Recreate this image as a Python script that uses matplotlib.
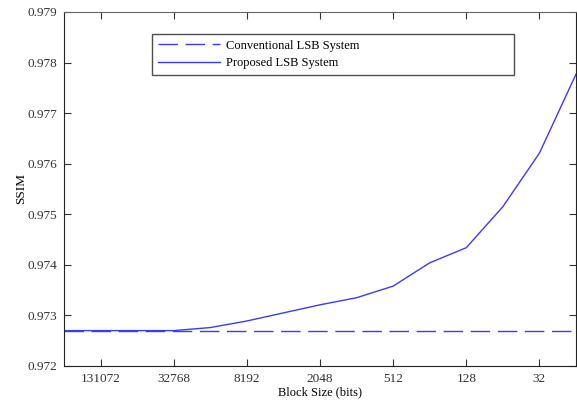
import matplotlib
matplotlib.use("Agg")
import matplotlib.pyplot as plt
import numpy as np

plt.rcParams['font.family'] = ['Liberation Serif', 'DejaVu Serif']

# block sizes in bits, from 2^18 down to 2^4
block_sizes = [262144, 131072, 65536, 32768, 16384, 8192, 4096, 2048,
               1024, 512, 256, 128, 64, 32, 16]
conventional = [0.9727] * 15
proposed = [0.9727, 0.9727, 0.9727, 0.9727, 0.97276, 0.97289, 0.97305, 0.97321,
            0.97335, 0.97358, 0.97404, 0.97434, 0.97515, 0.97621, 0.97777]
tick_labels = ['131072', '32768', '8192', '2048', '512', '128', '32']

x = -np.log2(block_sizes)

fig = plt.figure(figsize=(5.77, 4.0), dpi=100)
ax = fig.add_axes([64/577, 1 - 366/400, 512/577, 354/400])

ax.plot(x, conventional, color='#3a3aff', lw=1, dashes=(14, 5.5),
        label='Conventional LSB System')
ax.plot(x, proposed, color='#3a3aff', lw=1, label='Proposed LSB System')

ax.set_xlim(x[0], x[-1])
ax.set_ylim(0.972, 0.979)
ticks = -np.log2([int(t) for t in tick_labels])
ax.set_xticks(ticks)
ax.set_xticklabels(tick_labels)
ax.set_yticks(np.arange(0.972, 0.97901, 0.001))
ax.yaxis.set_major_formatter(matplotlib.ticker.FormatStrFormatter('%.3f'))
ax.tick_params(direction='in', top=True, right=True, labelsize=9.5,
               length=5, colors='#333333', labelcolor='#333333', pad=5)
for s in ax.spines.values():
    s.set_color('#222222')
ax.spines['top'].set_color('#666666')

ax.set_xlabel('Block Size (bits)', fontsize=9, labelpad=1)
ax.set_ylabel('SSIM', fontsize=9.5, labelpad=0)

leg = ax.legend(loc='upper left', bbox_to_anchor=(0.172, 0.833, 0.707, 0.105),
                mode='expand', frameon=True, fancybox=False, fontsize=9,
                handlelength=5, borderpad=0.45, labelspacing=0.45,
                handletextpad=0.5, borderaxespad=0)
leg.get_frame().set_edgecolor('#222222')
leg.get_frame().set_linewidth(1)

fig.savefig('out.png', dpi=100)
